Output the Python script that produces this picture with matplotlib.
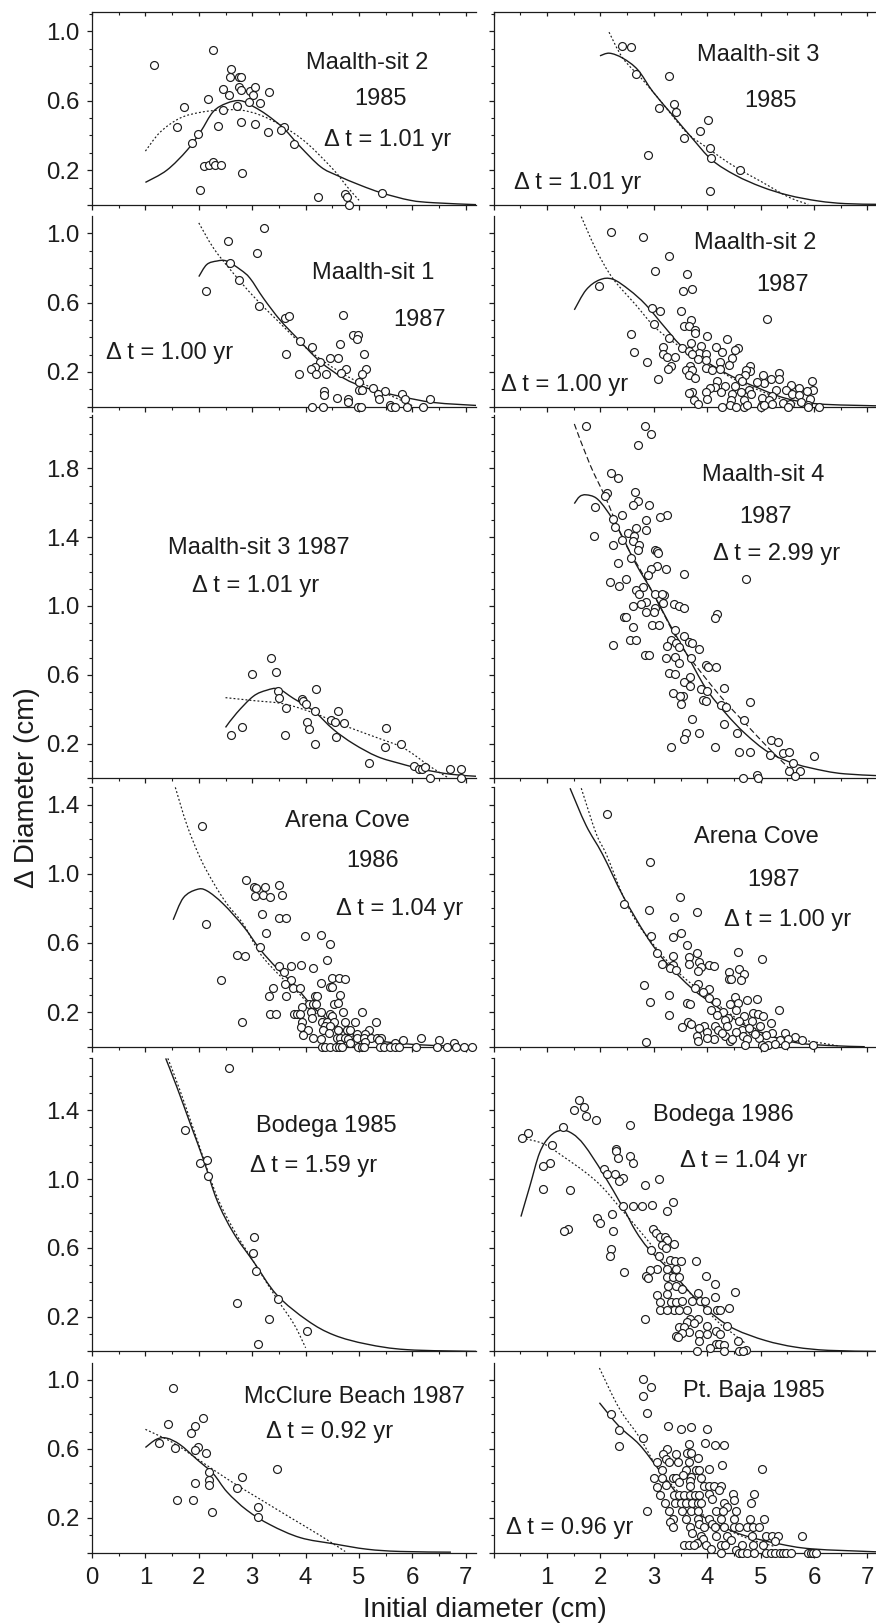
import matplotlib
matplotlib.use("Agg")
import matplotlib.pyplot as plt
import numpy as np
from matplotlib.patches import PathPatch
from matplotlib.path import Path
from matplotlib.ticker import FixedLocator, NullFormatter

plt.rcParams['font.family'] = ['Liberation Sans', 'DejaVu Sans']
INK = '#1c1c1c'
W, H = 876, 1623

# (initial diameter, delta diameter), one set per panel
pts_a = [(1.17,.806),(2.26,.89),(2.61,.78),(2.58,.735),(2.75,.735),(2.79,.735),(2.75,.68),(2.79,.66),(2.46,.665),(2.56,.635),
         (2.95,.658),(3.06,.68),(3.01,.635),(3.31,.65),(2.18,.61),(2.94,.594),(3.14,.587),(1.73,.565),(2.71,.571),(2.46,.548),
         (1.6,.448),(2.36,.456),(2.79,.479),(3.06,.463),(3.29,.417),(3.59,.448),(3.54,.433),(1.98,.41),(1.88,.356),(3.79,.348),
         (2.09,.223),(2.2,.231),(2.26,.246),(2.31,.231),(2.41,.231),(2.81,.185),(2.03,.085),(4.24,.046),(4.74,.062),(4.78,.046),
         (4.82,0),(5.43,.069)]
solid_a = [(1,.13),(1.4,.2),(1.78,.315),(2.03,.42),(2.27,.537),(2.52,.585),(2.78,.6),(3.03,.565),(3.28,.517),(3.59,.44),
           (3.9,.335),(4.28,.22),(4.59,.17),(5.03,.113),(5.43,.069),(5.96,.027),(6.4,.013),(7.2,.002)]
dot_a = [(1,.31),(1.28,.42),(1.65,.5),(2.03,.533),(2.4,.546),(2.78,.546),(3.15,.517),(3.59,.45),(4.03,.354),(4.53,.2),(4.78,.104),(5,.027)]

pts_b = [(3.22,1.033),(2.54,.956),(3.09,.885),(2.59,.831),(2.76,.729),(2.13,.667),(3.12,.583),(3.62,.513),(3.69,.521),(4.7,.529),
         (4.89,.41),(4.98,.41),(4.97,.388),(3.9,.381),(4.65,.36),(4.12,.342),(3.64,.304),(5.09,.304),(4.45,.281),(4.6,.281),
         (4.27,.258),(4.18,.227),(4.1,.219),(4.76,.219),(5.13,.219),(4.66,.196),(3.87,.188),(4.2,.188),(4.38,.188),(5.06,.188),
         (5,.142),(5,.096),(5.06,.096),(5.26,.104),(5.48,.089),(5.36,.073),(4.35,.089),(4.35,.064),(5.38,.042),(5.81,.071),
         (5.86,.042),(6.32,.042),(4.58,.048),(4.8,.042),(4.8,.027),(4.12,0),(4.32,0),(4.98,0),(5.03,0),(5.58,.008),(5.6,0),
         (5.68,0),(5.9,0),(6.19,0)]
solid_b = [(2,.75),(2.15,.82),(2.34,.84),(2.52,.84),(2.78,.79),(2.96,.74),(3.21,.625),(3.52,.5),(3.84,.395),(4.27,.26),
           (4.71,.164),(5.15,.106),(5.78,.058),(6.4,.023),(7.2,.006)]
dot_b = [(2,1.06),(2.27,.917),(2.59,.79),(3.02,.637),(3.46,.5),(3.9,.367),(4.34,.26),(4.84,.164),(5.34,.096),(5.84,.029),(6.02,0)]

pts_c = [(3.36,.696),(3.44,.617),(3,.602),(3.49,.508),(3.51,.467),(4.19,.516),(3.94,.46),(3.96,.45),(4,.431),(3.64,.407),
         (4.17,.39),(4.6,.39),(4.02,.328),(4.47,.335),(4.55,.328),(4.72,.32),(2.81,.296),(4.07,.282),(2.61,.25),(3.61,.25),
         (4.57,.236),(4.17,.195),(5.5,.289),(5.78,.195),(5.48,.181),(5.19,.087),(6.03,.07),(6.13,.055),(6.18,.055),(6.23,.063),
         (6.71,.055),(6.91,.055),(6.33,0),(6.91,0)]
solid_c = [(2.5,.294),(2.71,.378),(3.02,.475),(3.27,.51),(3.49,.518),(3.77,.463),(4.15,.39),(4.52,.282),(4.9,.198),(5.34,.125),
           (5.77,.084),(6.2,.05),(6.71,.022),(7.2,.01)]
dot_c = [(2.5,.467),(3.02,.45),(3.59,.431),(4.15,.378),(4.71,.306),(5.34,.234),(5.84,.173),(6.34,.065),(6.65,.005)]

pts_d = [(2.06,1.277),(2.88,.964),(3.03,.926),(3.08,.919),(3.24,.926),(3.51,.933),(3.56,.88),(3.21,.88),(3.06,.873),(3.34,.866),
         (3.19,.77),(3.51,.742),(3.64,.742),(2.13,.71),(3.26,.655),(3.99,.641),(4.28,.648),(4.45,.593),(3.14,.579),(2.71,.531),
         (2.86,.524),(4.4,.502),(3.51,.464),(3.72,.464),(3.92,.471),(4.14,.455),(3.59,.433),(4.49,.4),(4.63,.4),(4.73,.392),
         (2.41,.385),(3.72,.385),(3.61,.361),(4.28,.368),(4.45,.344),(4.49,.344),(3.39,.337),(3.76,.337),(3.89,.337),(3.32,.292),
         (3.64,.292),(4.18,.292),(4.22,.292),(4.65,.299),(4.54,.246),(4.6,.254),(4.06,.246),(4.14,.246),(4.19,.246),(3.93,.23),
         (3.34,.191),(3.44,.191),(3.78,.191),(3.84,.191),(3.89,.191),(4.1,.199),(4.28,.199),(4.45,.191),(4.7,.199),(5.06,.199),
         (4.12,.167),(4.5,.175),(3.94,.144),(2.81,.144),(4.31,.144),(4.4,.144),(4.54,.144),(4.73,.144),(4.93,.144),(5.31,.144),
         (4.37,.122),(4.46,.122),(3.91,.115),(4.05,.098),(4.33,.098),(4.6,.098),(4.78,.098),(4.84,.098),(5.18,.098),(4.43,.077),
         (3.95,.067),(4.96,.072),(5.12,.072),(4.14,.05),(4.28,.045),(4.59,.05),(4.65,.05),(4.74,.05),(4.8,.045),(4.96,.05),
         (5.09,.05),(5.23,.05),(5.34,.05),(5.41,.05),(5.83,.036),(6.16,.05),(6.49,.036),(6.78,.02),(5.68,.02),(5.38,.036),
         (5.12,.026),(4.83,.02),(4.65,.017),(4.31,0),(4.37,0),(4.46,0),(4.56,0),(4.62,0),(4.68,0),(4.98,0),(5.06,0),(5.1,0),
         (5.4,0),(5.46,0),(5.58,0),(5.68,0),(5.74,0),(6.06,0),(6.46,0),(6.64,0),(6.81,0),(6.96,0),(7.12,0)]
solid_d = [(1.52,.734),(1.71,.861),(1.96,.909),(2.15,.902),(2.46,.825),(2.84,.694),(3.15,.562),(3.46,.455),(3.78,.359),(4.15,.227),
           (4.52,.132),(4.9,.072),(5.34,.036),(5.78,.019),(6.4,.007),(7.2,0)]
dot_d = [(1.56,1.5),(1.78,1.28),(2.03,1.089),(2.28,.945),(2.53,.825),(2.84,.706),(3.15,.538),(3.53,.407),(3.9,.3),(4.28,.167),
         (4.78,.072),(5.34,.03),(5.78,0)]

pts_e = [(2.56,1.643),(1.75,1.285),(2.03,1.091),(2.16,1.108),(2.18,1.019),(3.04,.664),(3.01,.569),(3.08,.469),(3.49,.304),
         (2.71,.283),(3.31,.19),(4.02,.12),(3.11,.042)]
solid_e = [(1.38,1.7),(1.59,1.533),(1.84,1.321),(2.09,1.11),(2.34,.877),(2.65,.687),(3.03,.518),(3.46,.328),(4.03,.18),(4.53,.095),
           (5.15,.042),(5.9,.01),(7.2,0)]
dot_e = [(1.42,1.7),(1.65,1.512),(2.03,1.173),(2.34,.899),(2.65,.708),(3.03,.518),(3.46,.306),(3.78,.159),(4,.021)]

pts_f = [(1.52,.954),(2.08,.776),(1.42,.745),(1.93,.73),(1.85,.69),(1.25,.635),(1.98,.612),(1.55,.603),(1.93,.591),(2.13,.574),
         (2.2,.464),(2.81,.435),(3.46,.481),(2.2,.422),(1.93,.403),(2.2,.388),(2.71,.373),(1.6,.304),(1.9,.304),(3.1,.264),
         (2.25,.234),(3.1,.203)]
solid_f = [(1,.608),(1.21,.656),(1.4,.662),(1.65,.624),(1.96,.54),(2.27,.456),(2.53,.35),(2.9,.245),(3.34,.16),(3.9,.086),
           (4.53,.05),(5.15,.019),(5.77,.006),(6.72,.002)]
dot_f = [(1,.713),(1.52,.635),(2.03,.53),(2.59,.414),(3.15,.308),(3.71,.203),(4.28,.097),(4.74,.006)]

pts_g = [(2.4,.913),(2.57,.906),(2.67,.752),(3.29,.744),(3.1,.56),(3.37,.581),(3.42,.535),(4.02,.488),(3.87,.427),(3.57,.388),
         (4.05,.327),(4.07,.273),(2.89,.288),(4.62,.202),(4.05,.079)]
solid_g = [(1.99,.858),(2.17,.873),(2.42,.844),(2.7,.777),(2.98,.652),(3.35,.517),(3.72,.383),(4.09,.258),(4.53,.171),(5.02,.104),
           (5.52,.056),(6.08,.023),(6.58,.008),(7.16,.004)]
dot_g = [(2.16,.994),(2.42,.844),(2.79,.72),(3.16,.585),(3.6,.421),(3.97,.335),(4.47,.229),(5.02,.133),(5.52,.046),(5.89,.004)]

pts_h = [(2.19,1.008),(2.79,.977),(3.29,.869),(3.02,.785),(3.62,.767),(3.72,.677),(3.55,.667),(1.97,.698),(5.12,.506),(2.97,.567),
         (3.12,.552),(3.5,.552),(3.7,.498),(3,.475),(3.57,.467),(3.65,.467),(3.77,.444),(3.77,.423),(2.57,.421),(3.99,.406),
         (3.29,.398),(4.37,.39),(3.7,.365),(3.89,.352),(4.17,.342),(3.17,.344),(3.52,.337),(4.57,.335),(4.52,.327),(3.65,.321),
         (4.27,.313),(2.62,.313),(3.17,.304),(3.84,.308),(3.97,.304),(3.72,.304),(3.25,.288),(3.4,.288),(4.47,.281),(3.82,.273),
         (2.87,.258),(3.97,.269),(4.23,.258),(4.4,.242),(4.8,.235),(3.32,.235),(3.27,.219),(3.97,.225),(3.67,.235),(3.61,.212),
         (3.72,.212),(4.09,.212),(4.23,.217),(4.8,.206),(4.73,.212),(5.35,.196),(3.66,.181),(3.77,.165),(4.71,.181),(5.05,.181),
         (4.59,.163),(3.07,.158),(4.19,.15),(4.65,.15),(5.2,.158),(5.35,.158),(5.96,.15),(5.07,.135),(5.57,.125),(4.52,.119),
         (4.34,.119),(4.14,.112),(4.06,.104),(4.93,.142),(5.72,.106),(5.98,.096),(5.86,.088),(5.29,.096),(5.47,.096),(4.79,.096),
         (4.64,.081),(4.47,.073),(4.25,.081),(3.98,.085),(3.72,.085),(3.66,.077),(5.58,.073),(5.72,.065),(5.21,.058),(4.81,.073),
         (5.02,.05),(5.15,.035),(5.93,.046),(4.45,.038),(3.99,.042),(3.75,.035),(3.82,.015),(4.68,.035),(5.41,.019),(5.55,.015),
         (5.76,.027),(5.89,.008),(4.42,.008),(4.28,0),(4.54,0),(4.68,0),(4.74,.008),(5.02,.008),(5.01,0),(5.07,.008),(5.22,.012),
         (5.52,0),(5.88,0),(6.09,0)]
solid_h = [(1.51,.558),(1.73,.673),(1.98,.731),(2.23,.735),(2.54,.673),(2.85,.587),(3.22,.452),(3.53,.346),(3.97,.26),(4.47,.173),
           (4.96,.106),(5.46,.048),(6.08,.015),(7.16,.004)]
dot_h = [(1.64,1.096),(1.92,.904),(2.23,.74),(2.66,.587),(3.04,.452),(3.53,.337),(3.97,.26),(4.47,.163),(5.02,.087),(5.52,.029),(5.89,0)]

pts_i = [(1.72,2.046),(2.83,2.046),(2.95,1.998),(2.7,1.937),(2.2,1.773),(2.32,1.745),(2.65,1.663),(2.12,1.655),(2.09,1.639),(2.7,1.61),
         (2.9,1.586),(2.61,1.586),(1.89,1.578),(2.4,1.53),(3.25,1.53),(3.12,1.516),(2.24,1.508),(2.85,1.499),(2.27,1.46),(2.67,1.453),
         (2.85,1.443),(2.52,1.424),(1.87,1.407),(2.62,1.405),(2.4,1.386),(2.61,1.376),(2.24,1.352),(2.72,1.354),(2.7,1.323),(3.02,1.328),
         (3.05,1.318),(3.08,1.306),(2.57,1.28),(2.32,1.25),(3.05,1.231),(2.95,1.212),(3.22,1.212),(2.89,1.181),(3.57,1.188),(4.72,1.157),
         (2.47,1.157),(2.17,1.14),(2.35,1.118),(2.8,1.108),(2.67,1.094),(3.02,1.067),(2.73,1.07),(3.19,1.063),(3.15,1.067),(2.85,1.024),
         (3.17,1.017),(2.76,1.014),(2.61,1),(3.37,1.01),(3.47,1.002),(3.57,.986),(3.02,.988),(2.86,.964),(3,.966),(4.18,.954),
         (4.15,.93),(2.44,.937),(2.48,.937),(2.97,.892),(3.1,.892),(2.6,.875),(3.4,.86),(3.57,.827),(2.55,.805),(2.67,.805),
         (3.32,.8),(2.24,.773),(3.65,.793),(3.72,.783),(3.41,.783),(3.25,.766),(3.47,.759),(3.84,.752),(2.84,.713),(2.9,.713),
         (3.22,.696),(3.4,.704),(3.7,.696),(3.47,.667),(3.97,.658),(4.02,.643),(4.17,.648),(3.29,.612),(3.4,.602),(3.67,.588),
         (3.57,.559),(3.67,.535),(4.32,.525),(3.89,.518),(3.99,.504),(3.35,.492),(3.55,.475),(3.49,.475),(3.92,.453),(3.98,.448),
         (3.5,.431),(4.8,.439),(4.25,.422),(4.35,.414),(3.72,.345),(4.68,.337),(4.32,.313),(3.6,.263),(3.84,.26),(4.55,.26),
         (3.57,.229),(5.2,.219),(5.32,.212),(3.32,.181),(4.15,.181),(4.6,.149),(4.8,.149),(5.18,.135),(5.42,.145),(5.53,.149),
         (6,.125),(5.6,.087),(5.53,.039),(5.73,.039),(5.65,.014),(4.93,.017),(4.67,0),(4.95,0)]
solid_i = [(1.51,1.595),(1.61,1.636),(1.73,1.646),(1.92,1.627),(2.11,1.559),(2.35,1.439),(2.66,1.246),(2.98,1.077),(3.29,.896),(3.6,.728),
           (3.97,.523),(4.34,.378),(4.71,.258),(5.15,.149),(5.65,.082),(6.2,.041),(6.58,.024),(7.16,.014)]
dot_i = [(1.51,2.058),(1.8,1.824),(2.11,1.619),(2.42,1.39),(2.79,1.186),(3.1,1.005),(3.47,.788),(3.84,.631),(4.28,.463),(4.71,.318),
         (5.15,.173),(5.52,.06),(5.68,.005)]

pts_j = [(2.12,1.347),(2.92,1.067),(3.49,.866),(2.9,.789),(3.8,.78),(2.44,.828),(3.37,.751),(3.5,.656),(2.94,.639),(3.35,.634),
         (3.62,.586),(3.05,.541),(3.8,.541),(4.58,.548),(3.35,.524),(3.65,.519),(5.02,.51),(3.65,.481),(3.84,.49),(3.15,.481),
         (3.35,.471),(3.3,.457),(3.89,.462),(4.04,.471),(4.12,.464),(3.42,.445),(3.82,.44),(4.6,.452),(4.4,.433),(4.68,.423),
         (4.4,.392),(4.45,.392),(4.63,.385),(3.82,.361),(2.82,.354),(4.04,.333),(3.92,.318),(3.77,.337),(4.04,.28),(3.29,.299),
         (4.52,.285),(4.93,.275),(4.75,.268),(2.92,.261),(4.17,.261),(3.62,.254),(3.67,.246),(4.42,.246),(4.57,.251),(4.07,.211),
         (4.54,.215),(5.35,.215),(4.3,.199),(4.85,.196),(4.95,.189),(5.04,.175),(3.29,.184),(4.19,.184),(4.69,.179),(4.39,.165),
         (4.34,.155),(4.59,.146),(4.84,.146),(5.19,.136),(3.63,.141),(3.7,.132),(3.52,.115),(3.94,.12),(4.14,.117),(4.37,.117),
         (4.98,.117),(4.65,.096),(3.84,.108),(4.21,.096),(3.99,.084),(3.8,.06),(4.53,.084),(4.84,.089),(5.21,.077),(5.45,.077),
         (5.65,.057),(4.34,.06),(4.67,.06),(4.12,.045),(3.99,.05),(5.1,.065),(4.96,.05),(4.75,.043),(5.52,.045),(5.77,.036),
         (5.37,.036),(3.83,.031),(2.85,.029),(4.42,.031),(4.71,.012),(5.02,.012),(5.14,.012),(5.27,.017),(5.45,.007),(5.98,.007),
         (5.06,0),(4.28,.079),(4.47,.045),(4.78,.108),(4.89,.072)]
solid_j = [(1.43,1.495),(1.73,1.28),(2.04,1.112),(2.42,.873),(2.85,.646),(3.22,.49),(3.72,.335),(4.09,.251),(4.59,.144),(5.09,.072),
           (5.65,.024),(6.27,.007),(6.95,0)]
dot_j = [(1.64,1.495),(1.92,1.232),(2.11,1.112),(2.42,.873),(2.66,.73),(2.91,.622),(3.41,.443),(3.97,.299),(4.59,.156),(5.21,.06),
         (5.83,.036),(6.45,.005)]

pts_k = [(1.6,1.457),(1.5,1.402),(1.7,1.419),(1.72,1.364),(1.92,1.34),(2.55,1.315),(1.3,1.3),(.65,1.268),(.53,1.239),(1.09,1.199),
         (2.29,1.175),(2.29,1.161),(2.55,1.131),(2.32,1.123),(2.6,1.091),(1.05,1.091),(.92,1.076),(2.07,1.059),(2.12,1.03),(2.27,1.03),
         (2.42,1.006),(2.34,.989),(3.1,.998),(2.84,.966),(.92,.943),(1.42,.937),(3.35,.867),(2.97,.85),(2.42,.841),(2.61,.841),
         (2.77,.841),(3.25,.812),(2.22,.795),(1.94,.772),(1.99,.742),(1.39,.71),(1.31,.696),(2.24,.696),(2.99,.71),(3.04,.687),
         (3.12,.664),(3.2,.664),(3.25,.649),(3.38,.624),(3.15,.619),(3.22,.6),(2.2,.594),(2.94,.588),(2.17,.556),(3.1,.556),
         (3.3,.531),(3.4,.524),(3.5,.524),(3.78,.524),(3.05,.478),(3.25,.478),(3.42,.476),(2.92,.471),(2.44,.463),(2.85,.44),
         (2.89,.423),(3.25,.433),(3.35,.431),(3.47,.431),(3.97,.44),(3.27,.381),(3.41,.381),(4.15,.391),(3.52,.362),(4.52,.347),
         (3.25,.332),(3.82,.338),(3.05,.33),(4.15,.315),(3.72,.292),(3.87,.29),(3.95,.29),(3.12,.285),(3.32,.285),(3.41,.285),
         (3.52,.292),(3.37,.239),(3.12,.239),(3.25,.239),(3.47,.239),(3.62,.239),(3.99,.239),(4.19,.243),(4.23,.243),(4.4,.252),
         (2.84,.19),(3.67,.186),(3.82,.19),(3.62,.169),(3.75,.165),(3.99,.146),(4.37,.146),(3.47,.144),(3.57,.144),(3.65,.112),
         (3.52,.106),(4.17,.116),(4.23,.099),(3.84,.099),(3.99,.099),(3.42,.089),(3.45,.085),(3.84,.059),(4.57,.059),(4.17,.044),
         (4.22,.044),(4.32,.036),(4.06,.019),(4.72,.011),(4.6,0),(4.67,0),(3.8,0),(4.32,0)]
solid_k = [(.51,.782),(.68,.962),(.86,1.152),(1.05,1.247),(1.27,1.283),(1.48,1.262),(1.7,1.195),(2.04,1.036),(2.42,.835),(2.66,.698),
           (2.91,.592),(3.35,.455),(3.78,.307),(4.16,.201),(4.53,.127),(5.09,.063),(5.65,.025),(6.27,.006),(7.16,0)]
dot_k = [(.53,1.237),(.93,1.205),(1.3,1.131),(1.73,1.036),(2.04,.951),(2.42,.814),(2.91,.634),(3.41,.433),(3.84,.285),(4.28,.148),
         (4.47,.106),(4.7,.05)]

pts_l = [(2.79,1.006),(2.94,.958),(2.79,.905),(2.87,.81),(2.19,.804),(2.34,.711),(2.34,.618),(2.79,.665),(3.27,.734),(3.5,.717),
         (3.7,.726),(3.99,.717),(3.65,.627),(3.95,.633),(4.15,.624),(4.32,.624),(3.25,.601),(3.17,.57),(3.42,.57),(3.62,.576),
         (3.7,.576),(3.82,.549),(3.22,.544),(3.29,.525),(3.05,.525),(3.45,.525),(3.65,.525),(4.27,.508),(5.02,.485),(4.04,.485),
         (3.15,.477),(3.61,.477),(3.79,.477),(3.84,.477),(3.7,.439),(3.01,.432),(3.15,.432),(3.35,.432),(3.41,.432),(3.89,.432),
         (3.55,.451),(3.67,.414),(3.47,.409),(3.05,.378),(3.22,.392),(3.67,.386),(3.94,.386),(4.04,.386),(4.12,.386),(4.25,.386),
         (4.22,.359),(4.04,.34),(3.12,.331),(3.37,.333),(3.47,.333),(3.57,.333),(3.67,.333),(3.77,.333),(3.84,.333),(4.87,.338),
         (4.48,.338),(4.09,.308),(4.5,.302),(3.2,.285),(3.4,.285),(3.5,.285),(3.6,.285),(3.72,.285),(3.82,.285),(3.89,.285),
         (4.32,.285),(4.82,.285),(4.37,.262),(2.87,.238),(3.29,.238),(3.52,.238),(3.7,.238),(3.82,.238),(4.17,.238),(4.3,.238),
         (4.54,.238),(3.35,.192),(3.6,.192),(3.82,.192),(4.04,.192),(4.25,.192),(4.5,.192),(4.8,.192),(5.07,.192),(3.3,.175),
         (3.84,.165),(4.09,.165),(3.67,.148),(3.35,.148),(3.94,.148),(4.15,.148),(4.32,.148),(4.5,.148),(4.59,.148),(4.75,.148),
         (4.85,.148),(4.97,.148),(3.72,.114),(4.17,.097),(3.89,.097),(4.37,.097),(4.84,.097),(5.1,.097),(5.22,.097),(5.32,.097),
         (5.77,.097),(3.92,.076),(4.45,.07),(5.27,.065),(3.8,.055),(3.57,.044),(3.65,.044),(3.75,.044),(3.97,.044),(4.25,.044),
         (4.34,.044),(4.65,.044),(4.85,.044),(5.04,.044),(4.07,.019),(4.53,.013),(4.25,0),(4.6,0),(4.65,0),(4.75,0),(4.87,0),
         (5.1,0),(5.19,0),(5.27,0),(5.37,0),(5.41,0),(5.47,0),(5.57,0),(5.89,0),(5.94,0),(5.98,0),(6.03,0)]
solid_l = [(1.98,.867),(2.35,.73),(2.73,.624),(3.1,.477),(3.47,.329),(3.84,.224),(4.28,.15),(4.71,.097),(5.33,.051),(5.96,.021),(7.16,.004)]
dot_l = [(1.98,1.068),(2.35,.835),(2.73,.667),(3.1,.477),(3.6,.308),(4.09,.181),(4.71,.087),(5.27,.034)]

# top, bottom pixel of each row and its upper y limit
row_px = [(12, 205), (216, 406.5), (415, 778), (786.5, 1046.7), (1057.5, 1351.4), (1362.5, 1552.5)]
row_top = [1.11, 1.1, 2.11, 1.505, 1.705, 1.1]
row_major = [[0, .2, .6, 1.0], [0, .2, .6, 1.0], [0, .2, .6, 1.0, 1.4, 1.8], [0, .2, .6, 1.0, 1.4],
             [0, .2, .6, 1.0, 1.4], [0, .2, .6, 1.0]]

left = [
    (pts_a, solid_a, dot_a, [("Maalth-sit 2", 5.15, .83), ("1985", 5.41, .62), ("Δ t = 1.01 yr", 5.54, .383)]),
    (pts_b, solid_b, dot_b, [("Maalth-sit 1", 5.26, .78), ("1987", 6.13, .51), ("Δ t = 1.00 yr", 1.46, .323)]),
    (pts_c, solid_c, dot_c, [("Maalth-sit 3 1987", 3.12, 1.35), ("Δ t = 1.01 yr", 3.06, 1.13)]),
    (pts_d, solid_d, dot_d, [("Arena Cove", 4.79, 1.316), ("1986", 5.26, 1.088), ("Δ t = 1.04 yr", 5.76, .809)]),
    (pts_e, solid_e, dot_e, [("Bodega 1985", 4.38, 1.32), ("Δ t = 1.59 yr", 4.15, 1.089)]),
    (pts_f, solid_f, dot_f, [("McClure Beach 1987", 4.91, .913), ("Δ t = 0.92 yr", 4.45, .709)]),
]
right = [
    (pts_g, solid_g, dot_g, [("Maalth-sit 3", 4.95, .873), ("1985", 5.18, .61), ("Δ t = 1.01 yr", 1.58, .138)]),
    (pts_h, solid_h, dot_h, [("Maalth-sit 2", 4.89, .958), ("1987", 5.41, .712), ("Δ t = 1.00 yr", 1.33, .135)]),
    (pts_i, solid_i, dot_i, [("Maalth-sit 4", 5.04, 1.771), ("1987", 5.09, 1.53), ("Δ t = 2.99 yr", 5.29, 1.311)]),
    (pts_j, solid_j, dot_j, [("Arena Cove", 4.92, 1.222), ("1987", 5.24, .976), ("Δ t = 1.00 yr", 5.5, .742)]),
    (pts_k, solid_k, dot_k, [("Bodega 1986", 4.3, 1.38), ("Δ t = 1.04 yr", 4.68, 1.114)]),
    (pts_l, solid_l, dot_l, [("Pt. Baja 1985", 4.88, .945), ("Δ t = 0.96 yr", 1.42, .154)]),
]

fig = plt.figure(figsize=(W / 100, H / 100), dpi=100)


def smooth_path(curve, tension=0.17):
    # bezier through the read points, so the fitted curves don't look angular
    p = np.array(curve, dtype=float)
    tang = np.empty_like(p)
    tang[1:-1] = p[2:] - p[:-2]
    tang[0] = p[1] - p[0]
    tang[-1] = p[-1] - p[-2]
    verts = [p[0]]
    codes = [Path.MOVETO]
    for i in range(len(p) - 1):
        verts += [p[i] + tension * tang[i], p[i + 1] - tension * tang[i + 1], p[i + 1]]
        codes += [Path.CURVE4] * 3
    return Path(verts, codes)


def draw_panel(row, col, panel):
    pts, solid, dot, notes = panel
    top, bottom = row_px[row]
    x0, x1, xmax = (92, 476, 7.19) if col == 0 else (493.7, 876, 7.16)
    ax = fig.add_axes([x0 / W, 1 - bottom / H, (x1 - x0) / W, (bottom - top) / H])
    ax.set_xlim(0, xmax)
    ax.set_ylim(0, row_top[row])

    px, py = np.array(pts).T
    dash = (0, (5, 2.5)) if (row, col) == (2, 1) else (0, (1.6, 1.8))
    ax.add_patch(PathPatch(smooth_path(dot), fill=False, ec=INK, lw=0.85, ls=dash, zorder=2, clip_on=False))
    ax.add_patch(PathPatch(smooth_path(solid), fill=False, ec=INK, lw=1.0, zorder=3))
    ax.plot(px, py, 'o', ms=5.7, mfc='white', mec=INK, mew=0.85, zorder=4, clip_on=False)

    ax.spines['right'].set_visible(False)
    ax.spines['top'].set_visible(False)
    for side in ('left', 'bottom'):
        ax.spines[side].set_linewidth(0.9)
        ax.spines[side].set_color(INK)
        ax.spines[side].set_zorder(3.5)

    major = row_major[row]
    ax.yaxis.set_major_locator(FixedLocator(major))
    ax.yaxis.set_minor_locator(FixedLocator(np.arange(0, row_top[row], 0.1)))
    ax.xaxis.set_major_locator(FixedLocator(range(0, 8)))
    ax.xaxis.set_minor_locator(FixedLocator(np.arange(0.5, 7.5, 1)))
    ax.tick_params(which='major', length=3.6, width=0.9, color=INK)
    ax.tick_params(which='minor', length=2.0, width=0.8, color=INK)

    if col == 0:
        ax.set_yticklabels(['' if t == 0 else f"{t:.1f}" for t in major], fontsize=17.3, color=INK)
        ax.tick_params(axis='y', which='major', pad=5.5)
    else:
        ax.yaxis.set_major_formatter(NullFormatter())
    if row == 5:
        labels = [str(i) for i in range(8)]
        if col == 1:
            labels[0] = ''
        ax.set_xticklabels(labels, fontsize=17.3, color=INK)
        ax.tick_params(axis='x', which='major', pad=6.5)
    else:
        ax.xaxis.set_major_formatter(NullFormatter())

    if row == 0:
        sec = ax.secondary_xaxis('top')
        sec.xaxis.set_major_locator(FixedLocator(range(0, 8)))
        sec.xaxis.set_minor_locator(FixedLocator(np.arange(0.5, 7.5, 1)))
        sec.xaxis.set_major_formatter(NullFormatter())
        sec.tick_params(which='major', direction='in', length=3, width=0.9, color=INK)
        sec.tick_params(which='minor', direction='in', length=1.8, width=0.8, color=INK)
        sec.spines['top'].set_linewidth(0.9)
        sec.spines['top'].set_color(INK)

    for text, tx, ty in notes:
        ax.annotate(text, (tx, ty), xytext=(0, -1.4), textcoords='offset points', fontsize=17,
                    color=INK, ha='center', va='center', zorder=5)


for i, panel in enumerate(left):
    draw_panel(i, 0, panel)
for i, panel in enumerate(right):
    draw_panel(i, 1, panel)

fig.text(27.5 / W, 1 - 788 / H, "Δ Diameter (cm)", rotation=90, fontsize=20, color=INK, ha='center', va='center')
fig.text(485 / W, 1 - 1610 / H, "Initial diameter (cm)", fontsize=20, color=INK, ha='center', va='center')

fig.savefig("out.png", dpi=100)
